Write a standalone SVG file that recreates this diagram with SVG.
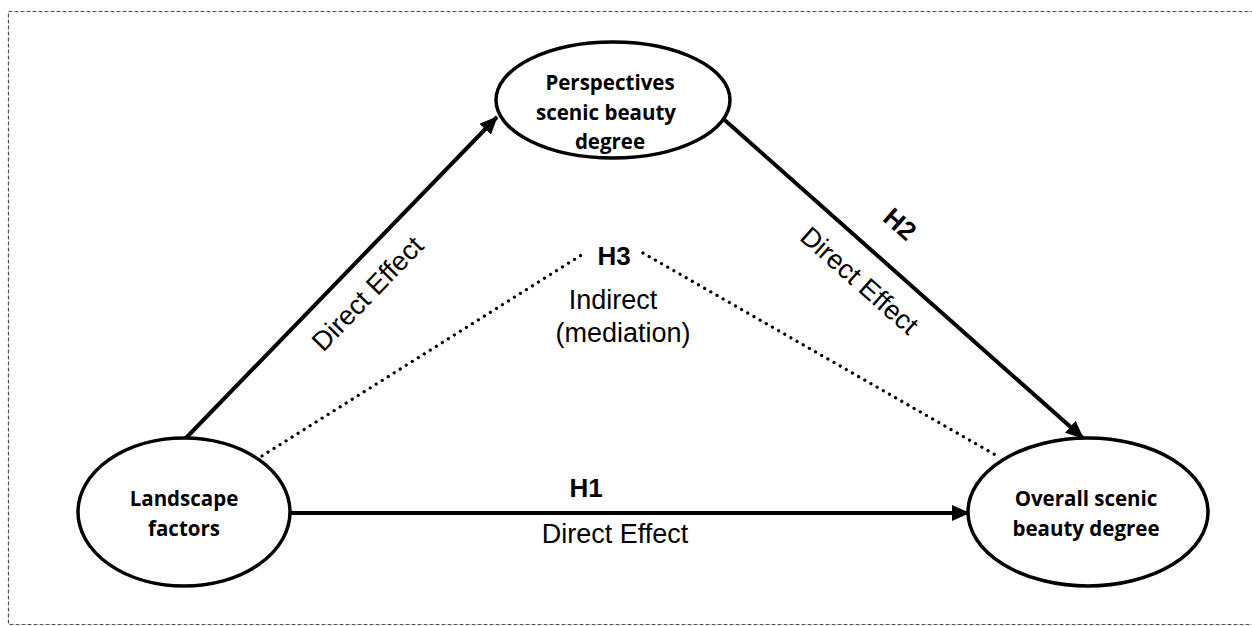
<svg xmlns="http://www.w3.org/2000/svg" width="1252" height="626" viewBox="0 0 1252 626">
<defs>
<marker id="arr" markerWidth="18" markerHeight="16" refX="17" refY="8" orient="auto" markerUnits="userSpaceOnUse">
<path d="M0,0 L18,8 L0,16 Z" fill="#000"/>
</marker>
<style>
.node{fill:#fff;stroke:#000;stroke-width:3.5}
.nt{font-family:"Open Sans","Liberation Sans",sans-serif;font-weight:700;font-size:20.5px;fill:#000;text-anchor:middle}
.edge{stroke:#000;stroke-width:4;fill:none}
.dot{stroke:#000;stroke-width:3.2;fill:none;stroke-dasharray:0.1 7;stroke-linecap:round}
.lbl{font-family:"Liberation Sans",Arial,sans-serif;font-size:27px;fill:#000;text-anchor:middle}
.h{font-family:"Liberation Sans",Arial,sans-serif;font-size:26px;font-weight:700;fill:#000;text-anchor:middle}
</style>
</defs>
<rect x="8.5" y="11.5" width="1250" height="613" fill="#fff" stroke="#555" stroke-width="1.2" stroke-dasharray="4 2"/>
<g id="connectors">
<line class="edge" x1="186" y1="438" x2="497" y2="117" marker-end="url(#arr)"/>
<line class="edge" x1="719" y1="115" x2="1083" y2="438" marker-end="url(#arr)"/>
<line class="edge" x1="290" y1="513" x2="969" y2="513" marker-end="url(#arr)"/>
<line class="dot" x1="262" y1="456" x2="583" y2="254"/>
<line class="dot" x1="643" y1="253" x2="999" y2="457"/>
<text class="lbl" transform="translate(367,293) rotate(-46)" dy="10">Direct Effect</text>
<text class="h" transform="translate(900,224) rotate(41.5)" dy="9">H2</text>
<text class="lbl" transform="translate(860,280) rotate(41.5)" dy="10">Direct Effect</text>
<text class="h" x="614" y="265">H3</text>
<text class="lbl" x="613" y="309">Indirect</text>
<text class="lbl" x="623" y="342">(mediation)</text>
<text class="h" x="586" y="497">H1</text>
<text class="lbl" x="615" y="543">Direct Effect</text>
</g>
<g id="perspectives">
<ellipse class="node" cx="613" cy="100" rx="117" ry="58"/>
<text class="nt" x="610" y="90">Perspectives</text>
<text class="nt" x="606" y="120">scenic beauty</text>
<text class="nt" x="610" y="149">degree</text>
</g>
<g id="landscape">
<ellipse class="node" cx="184" cy="512" rx="106" ry="74"/>
<text class="nt" x="184" y="506">Landscape</text>
<text class="nt" x="184" y="536">factors</text>
</g>
<g id="overall">
<ellipse class="node" cx="1088" cy="512" rx="120" ry="74"/>
<text class="nt" x="1086" y="506">Overall scenic</text>
<text class="nt" x="1086" y="536">beauty degree</text>
</g>
</svg>
